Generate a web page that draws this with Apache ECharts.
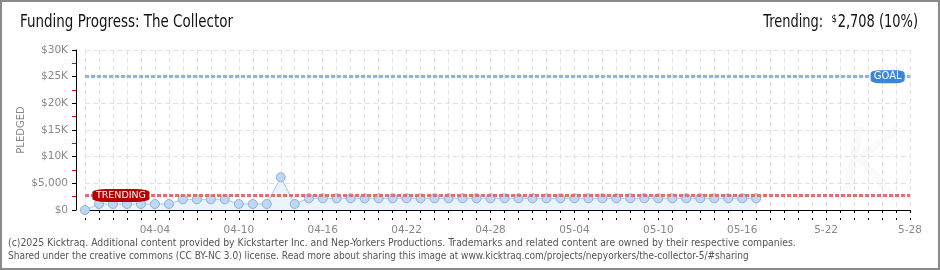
<!DOCTYPE html>
<html>
<head>
<meta charset="utf-8">
<script src="https://cdn.jsdelivr.net/npm/echarts@6/dist/echarts.min.js"></script>
<style>
html,body{margin:0;padding:0;background:#fff;}
#c{width:940px;height:270px;}
</style>
</head>
<body>
<div id="c"></div>
<script>
// ---- data ----
var dayCount = 60; // 03-30 .. 05-28
var pledged = [
  0,
  1125, 1125, 1125, 1125, 1125, 1125,
  2000, 2000, 2000, 2000,
  1125, 1125, 1125,
  6130,
  1125,
  2190, 2190, 2190, 2190, 2190, 2190, 2190, 2190, 2190, 2190, 2190,
  2190, 2190, 2190, 2190, 2190, 2190, 2190, 2190, 2190, 2190, 2190,
  2190, 2190, 2190, 2190, 2190, 2190, 2190, 2190, 2190, 2190, 2190
];
var xTickDays = [5, 11, 17, 23, 29, 35, 41, 47, 53, 59];
var xTickLabels = ['04-04', '04-10', '04-16', '04-22', '04-28', '05-04', '05-10', '05-16', '5-22', '5-28'];
var yTickLabels = ['$0', '$5,000', '$10K', '$15K', '$20K', '$25K', '$30K'];
var goal = 25000;
var trending = 2708;
var titleText = 'Funding Progress: The Collector';
var trendingText = ['Trending:', '$', '2,708 (10%)'];
var footer1 = '(c)2025 Kicktraq. Additional content provided by Kickstarter Inc. and Nep-Yorkers Productions. Trademarks and related content are owned by their respective companies.';
var footer2 = 'Shared under the creative commons (CC BY-NC 3.0) license. Read more about sharing this image at www.kicktraq.com/projects/nepyorkers/the-collector-5/#sharing';

var narrow = '"Liberation Sans Narrow","DejaVu Sans Condensed","Liberation Sans",sans-serif';
var pix = '"DejaVu Sans",sans-serif';

var seriesData = pledged.map(function (v, i) { return [i, v]; });
var labelMap = {};
xTickDays.forEach(function (d, i) { labelMap[d] = xTickLabels[i]; });

var chart = echarts.init(document.getElementById('c'), null, {renderer: 'canvas'});
var axisCommon = {type: 'value', min: 0, max: dayCount - 1, interval: 1, gridIndex: 0};
var yCommon = {type: 'value', min: 0, max: 30000};
chart.setOption({
  animation: false,
  grid: [
    {left: 85, right: 30, top: 50, bottom: 60},
    {left: 76, width: 1, top: 50, bottom: 60}
  ],
  xAxis: [Object.assign({}, axisCommon, {
    position: 'bottom', offset: 10,
    axisLine: {show: true, lineStyle: {color: '#000', width: 1}},
    axisTick: {show: true, length: 3, lineStyle: {color: '#000'}},
    axisLabel: {
      show: true, margin: 5, color: '#888', fontFamily: pix, fontSize: 10.5,
      formatter: function (v) { return labelMap[v] || ''; }
    },
    splitLine: {show: true, lineStyle: {color: '#e2e2e2', type: [5, 3]}}
  }), Object.assign({}, axisCommon, {
    position: 'bottom', offset: 10,
    axisLine: {show: false},
    axisTick: {show: true, inside: true, length: 2, lineStyle: {color: '#000'}},
    axisLabel: {show: false},
    splitLine: {show: false}
  }), {
    type: 'value', gridIndex: 1, show: false, min: 0, max: 1
  }],
  yAxis: [Object.assign({}, yCommon, {
    gridIndex: 0, interval: 5000,
    axisLine: {show: false}, axisTick: {show: false}, axisLabel: {show: false},
    splitLine: {show: true, lineStyle: {color: '#e2e2e2', type: [5, 3]}}
  }), Object.assign({}, yCommon, {
    gridIndex: 1, interval: 2500, position: 'left', z: 1,
    axisLine: {show: false},
    axisTick: {show: true, length: 4, lineStyle: {color: '#e00000'}},
    axisLabel: {show: false},
    splitLine: {show: false}
  }), Object.assign({}, yCommon, {
    gridIndex: 1, interval: 5000, position: 'left', z: 3,
    name: 'PLEDGED', nameLocation: 'middle', nameGap: 50, nameRotate: 90,
    nameTextStyle: {color: '#888', fontFamily: pix, fontSize: 10},
    axisLine: {show: true, lineStyle: {color: '#000', width: 1}},
    axisTick: {show: true, length: 4, lineStyle: {color: '#000'}},
    axisLabel: {
      margin: 8, color: '#888', fontFamily: pix, fontSize: 10.5,
      formatter: function (v) { return yTickLabels[Math.round(v / 5000)]; }
    },
    splitLine: {show: false}
  })],
  graphic: [{
    type: 'text', x: 20, y: 14, scaleX: 0.88,
    style: {text: titleText, fontFamily: narrow, fontSize: 17, fill: '#111'}
  }, {
    type: 'text', x: 918, y: 14, scaleX: 0.85,
    style: {
      text: '{a|' + trendingText[0] + '  }{s|' + trendingText[1] + '}{a|' + trendingText[2] + '}',
      align: 'right', fill: '#111',
      rich: {
        a: {fontFamily: narrow, fontSize: 17, fill: '#111', fontWeight: 'normal'},
        s: {fontFamily: narrow, fontSize: 11, fill: '#111', fontWeight: 'normal', verticalAlign: 'top', padding: [0, 1, 0, 0]}
      }
    }
  }, {
    type: 'text', x: 840, y: 125, z: 0,
    style: {text: 'K', fontSize: 90, fontStyle: 'italic', fontFamily: pix, fill: 'rgba(0,0,0,0.018)'}
  }, {
    type: 'text', x: 8, y: 238, scaleX: 0.985,
    style: {text: footer1, fontFamily: narrow, fontSize: 10.5, fill: '#555'}
  }, {
    type: 'text', x: 8, y: 251, scaleX: 0.955,
    style: {text: footer2, fontFamily: narrow, fontSize: 10.5, fill: '#555'}
  }, {
    type: 'rect', z: 100, silent: true,
    shape: {x: 1, y: 1, width: 938, height: 268},
    style: {fill: 'none', stroke: '#8a8a8a', lineWidth: 2}
  }],
  series: [{
    type: 'line', z: 1, xAxisIndex: 0, yAxisIndex: 0,
    data: [],
    markLine: {
      silent: true, symbol: 'none', label: {show: false},
      data: [
        {yAxis: goal, lineStyle: {color: '#8fb4e2', width: 3, type: [4, 2]}},
        {yAxis: trending, lineStyle: {color: '#e07070', width: 3, type: [4, 2]}}
      ]
    }
  }, {
    type: 'line', z: 3, xAxisIndex: 0, yAxisIndex: 0,
    data: seriesData,
    symbol: 'circle', symbolSize: 9,
    itemStyle: {color: '#bdd7f5', borderColor: '#8eaed6', borderWidth: 1},
    lineStyle: {color: '#a9c8ee', width: 1},
    areaStyle: {color: '#ebf3fc', opacity: 1},
    markPoint: {
      silent: true,
      data: [{
        coord: [57.4, goal], symbol: 'roundRect', symbolSize: [34, 13],
        itemStyle: {color: '#3a87d8'},
        label: {show: true, formatter: 'GOAL', color: '#fff', fontFamily: pix, fontSize: 10}
      }, {
        coord: [2.57, trending], symbol: 'roundRect', symbolSize: [57, 13],
        itemStyle: {color: '#b50000'},
        label: {show: true, formatter: 'TRENDING', color: '#fff', fontFamily: pix, fontSize: 9.5}
      }]
    }
  }]
});
</script>
</body>
</html>
